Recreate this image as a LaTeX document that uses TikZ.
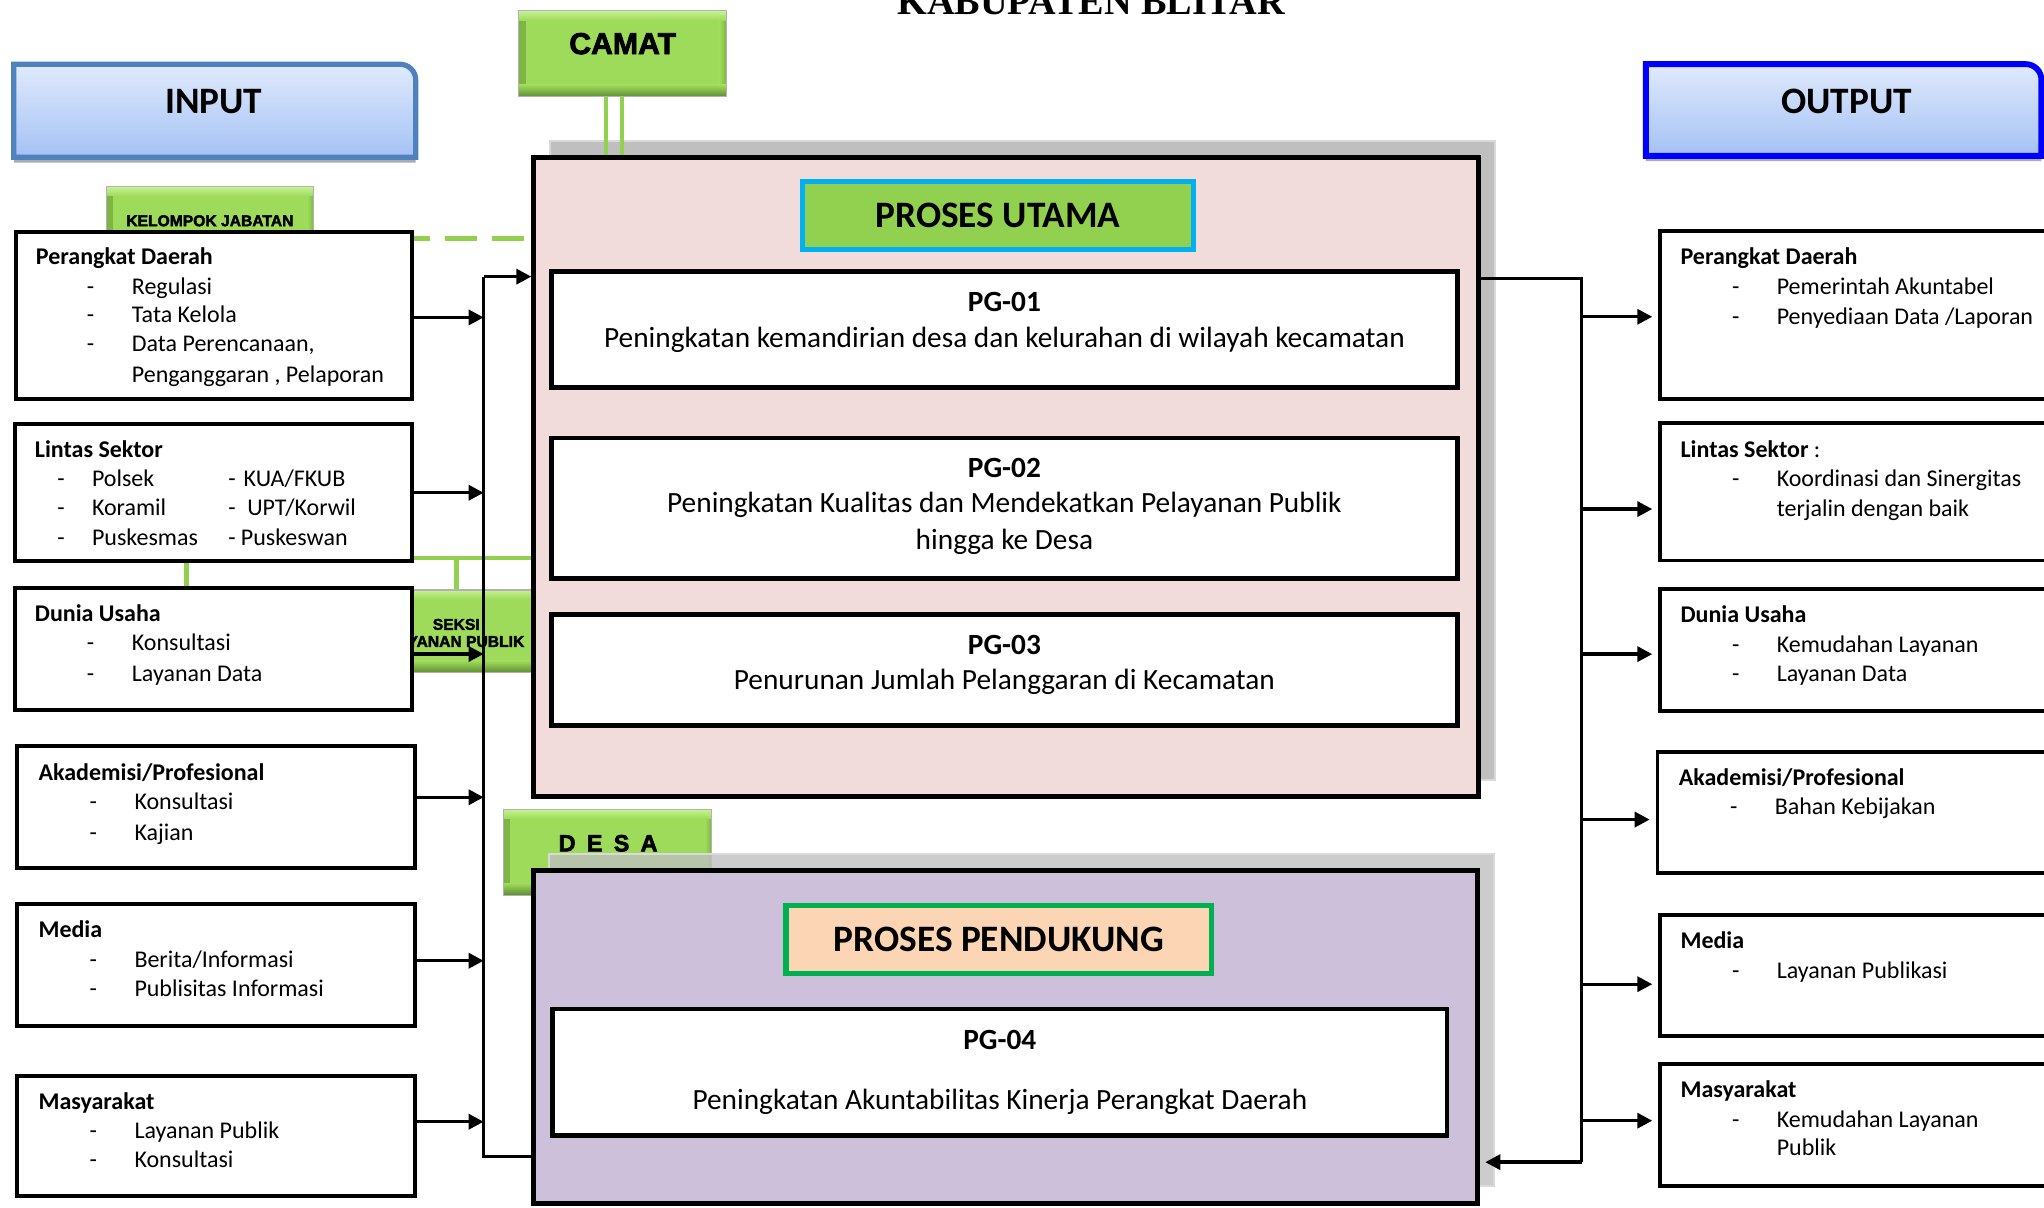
\documentclass[tikz,border=0pt]{standalone}
\usepackage{fontspec}
\setmainfont{Carlito}
\newfontfamily\arialf{Liberation Sans}[UprightFont={* Bold}, FakeBold=2.5]
\newfontfamily\seriff{Liberation Serif}
\usetikzlibrary{arrows.meta,fit}
\definecolor{pinkbox}{HTML}{F2DCDB}
\definecolor{lilac}{HTML}{CCC0DA}
\definecolor{shadegray}{HTML}{BFBFBF}
\definecolor{shadeline}{HTML}{D9D9D9}
\definecolor{lgreen}{HTML}{92D050}
\definecolor{cyanb}{HTML}{00B0F0}
\definecolor{peach}{HTML}{FCD5B4}
\definecolor{dgreen}{HTML}{00B050}
\definecolor{gtop}{HTML}{C6F294}
\definecolor{gmid}{HTML}{9EDB5A}
\definecolor{gbot}{HTML}{5E8C34}
\definecolor{gside}{HTML}{7FB444}
\definecolor{inblue}{HTML}{4F81BD}
\definecolor{outblue}{HTML}{0000FF}
\definecolor{bluetop}{HTML}{E0EAFB}
\definecolor{bluebot}{HTML}{A4C1F5}
\newcommand\dashitem[2]{\makebox[#1][l]{-}#2}
\begin{document}
\begin{tikzpicture}[x=1pt,y=-1pt,
  wbox/.style={draw, line width=3pt, fill=white, inner sep=0pt},
  mbox/.style={draw, line width=3.8pt, inner sep=0pt},
  shd/.style={fill=shadegray, draw=shadeline, line width=1.5pt},
  gbox/.style={draw=black!30, line width=0.8pt, fill=gmid, inner sep=0pt,
    path picture={
      \fill[left color=gside, right color=gmid] (path picture bounding box.south west) rectangle ([xshift=5pt]path picture bounding box.north west);
      \fill[left color=gmid, right color=gside] ([xshift=-5pt]path picture bounding box.south east) rectangle (path picture bounding box.north east);
      \fill[top color=gtop, bottom color=gmid] (path picture bounding box.north west) rectangle ([yshift=-7pt]path picture bounding box.north east);
      \fill[top color=gmid, bottom color=gbot] ([yshift=9pt]path picture bounding box.south west) rectangle (path picture bounding box.south east);
    }},
  lt/.style={anchor=base west, inner sep=0pt, font=\fontsize{18.4}{22}\selectfont},
  lth/.style={anchor=base west, inner sep=0pt, font=\bfseries\fontsize{18.4}{22}\selectfont},
  pgt/.style={anchor=base, inner sep=0pt, font=\fontsize{22.5}{27}\selectfont},
  pgh/.style={anchor=center, inner sep=0pt, font=\bfseries\fontsize{22.5}{27}\selectfont},
  ttl/.style={anchor=center, inner sep=0pt, font=\bfseries\fontsize{28.6}{32}\selectfont},
  gtx/.style={anchor=center, inner sep=0pt, font=\arialf\fontsize{12}{13}\selectfont},
  arr/.style={line width=2.6pt, -{Triangle[length=11.5pt,width=11.5pt]}},
  bus/.style={line width=2.3pt},
  gline/.style={lgreen, line width=3.5pt},
  gdash/.style={lgreen, line width=3.6pt, dash pattern=on 24pt off 12pt, dash phase=12pt},
  cline/.style={lgreen, line width=3pt}
]
\useasboundingbox (0,0) rectangle (1568,926);
\clip (0,0) rectangle (1568,926);

% title (cut at top, as in the reference)
\node[font=\seriff\bfseries\fontsize{29.3}{30}\selectfont, anchor=base, inner sep=0pt] (title) at (837,11.5) {KABUPATEN BLITAR};

% INPUT
\fill[gray!65] (10.6,124.7) -- (10.6,53.3) -- (306.9,53.3) arc[start angle=90,end angle=0,radius=12pt] -- (318.9,124.7) -- cycle;
\path[draw=inblue, line width=4pt, top color=bluetop, bottom color=bluebot] (10.6,120.7) -- (10.6,49.3) -- (306.9,49.3) arc[start angle=90,end angle=0,radius=12pt] -- (318.9,120.7) -- cycle;
\node[ttl] (input) at (164,78) {INPUT};

% OUTPUT
\fill[gray!65] (1262.6,123.6) -- (1262.6,53.2) -- (1554,53.2) arc[start angle=90,end angle=0,radius=12pt] -- (1566,123.6) -- cycle;
\path[draw=outblue, line width=4.5pt, top color=bluetop, bottom color=bluebot] (1262.6,119.6) -- (1262.6,49.2) -- (1554,49.2) arc[start angle=90,end angle=0,radius=12pt] -- (1566,119.6) -- cycle;
\node[ttl] (output) at (1416.6,77.8) {OUTPUT};

% green boxes
\node[gbox, fit={(398,8.4) (557,74.2)}] (camat) {};
\node[anchor=center, inner sep=0pt, font=\arialf\fontsize{23.2}{25}\selectfont] (camattxt) at (477.7,33.5) {CAMAT};
\node[gbox, fit={(81.5,143.2) (240.7,208)}] (kj) {};
\node[gtx] (kjtxt) at (161,169.4) {KELOMPOK JABATAN};
\node[gbox, fit={(271,452.6) (429,516)}] (seksi) {};
\node[gtx] (seksi1) at (350,479) {SEKSI};
\node[gtx] (seksi2) at (350,492.2) {LAYANAN PUBLIK};

% upper shadow + main box + camat lines
\draw[shd] (422,108) rectangle (1146.5,598);
\node[mbox, fill=pinkbox, fit={(409.5,121) (1134,611)}] (main) {};
\coordinate (cx1) at (465,0);
\coordinate (cx2) at (477,0);
\draw[cline] (camat.south -| cx1) -- (main.north -| cx1);
\draw[cline] (camat.south -| cx2) -- (main.north -| cx2);

\node[draw=cyanb, line width=4pt, fill=lgreen, inner sep=0pt, fit={(615.7,139.3) (915.5,191.6)}] (pu) {};
\node[ttl] (putxt) at (765.6,165.5) {PROSES UTAMA};

\node[mbox, fill=white, fit={(423,208.5) (1118,297)}] (pg1) {};
\node[pgh] (pg1h) at (770.5,231.4) {PG-01};
\node[pgt] (pg1t) at (770.5,266.9) {Peningkatan kemandirian desa dan kelurahan di wilayah kecamatan};

\node[mbox, fill=white, fit={(423,336) (1118,444)}] (pg2) {};
\node[pgh] (pg2h) at (770.5,359) {PG-02};
\node[pgt] (pg2t) at (770.5,393.3) {Peningkatan Kualitas dan Mendekatkan Pelayanan Publik};
\node[pgt] (pg2u) at (770.5,421.3) {hingga ke Desa};

\node[mbox, fill=white, fit={(423,471.5) (1118,556.5)}] (pg3) {};
\node[pgh] (pg3h) at (770.5,495) {PG-03};
\node[pgt] (pg3t) at (770.5,529.3) {Penurunan Jumlah Pelanggaran di Kecamatan};

% DESA + lower box
\node[gbox, fit={(386,620.9) (545.8,686.6)}] (desa) {};
\node[anchor=center, inner sep=0pt, font=\arialf\fontsize{18}{20}\selectfont] (desatxt) at (466.5,646.9) {D\hspace{3.6pt} E\hspace{3.6pt} S\hspace{3.6pt} A};
\draw[shd, fill opacity=0.8] (421.5,655) rectangle (1146,910);
\node[mbox, fill=lilac, fit={(409,668) (1133.5,923)}] (lower) {};
\node[draw=dgreen, line width=4pt, fill=peach, inner sep=0pt, fit={(603,694.5) (929.6,746.7)}] (pp) {};
\node[ttl] (pptxt) at (766.3,720.6) {PROSES PENDUKUNG};
\node[mbox, fill=white, fit={(424,774) (1110,871)}] (pg4) {};
\node[pgh] (pg4h) at (767,798) {PG-04};
\node[pgt] (pg4t) at (767,851.3) {Peningkatan Akuntabilitas Kinerja Perangkat Daerah};

% green connectors on the left
\coordinate (gdy) at (0,183);
\coordinate (gly) at (0,428);
\coordinate (gx) at (143,0);

% left boxes
\node[wbox, fit={(12.5,177.9) (316.2,306.1)}] (L1) {};
\node[wbox, fit={(11.3,325) (316.2,430.5)}] (L2) {};
\node[wbox, fit={(11.3,450.8) (316.2,544.9)}] (L3) {};
\node[wbox, fit={(13.2,572.2) (318.3,665.9)}] (L4) {};
\node[wbox, fit={(13.2,693.2) (318.3,787.3)}] (L5) {};
\node[wbox, fit={(13.2,825.4) (318.3,917.7)}] (L6) {};

\draw[gdash] (L1.east |- gdy) -- (main.west |- gdy);
\draw[gline] (L2.east |- gly) -- (main.west |- gly);
\draw[gline] (seksi.north |- gly) -- (seksi.north);
\draw[gline] (L2.south -| gx) -- (L3.north -| gx);

\node[lth] (l1h) at (27.4,202.9) {Perangkat Daerah};
\node[lt] (l1a) at (66.5,226) {\dashitem{34.5pt}{Regulasi}};
\node[lt] (l1b) at (66.5,247.6) {\dashitem{34.5pt}{Tata Kelola}};
\node[lt] (l1c) at (66.5,270) {\dashitem{34.5pt}{Data Perencanaan,}};
\node[lt] (l1d) at (101,293.7) {Penganggaran , Pelaporan};

\node[lth] (l2h) at (26.6,350.7) {Lintas Sektor};
\node[lt] (l2a) at (43.8,373.5) {\dashitem{26.6pt}{Polsek}};
\node[lt] (l2b) at (43.8,395.4) {\dashitem{26.6pt}{Koramil}};
\node[lt] (l2c) at (43.8,418.2) {\dashitem{26.6pt}{Puskesmas}};
\node[lt] (l2d) at (175,373.5) {\dashitem{11.7pt}{KUA/FKUB}};
\node[lt] (l2e) at (175,395.4) {\dashitem{14.5pt}{UPT/Korwil}};
\node[lt] (l2f) at (175,418.2) {\dashitem{9.6pt}{Puskeswan}};

\node[lth] (l3h) at (26.6,476.5) {Dunia Usaha};
\node[lt] (l3a) at (66.5,499) {\dashitem{34.5pt}{Konsultasi}};
\node[lt] (l3b) at (66.5,522.5) {\dashitem{34.5pt}{Layanan Data}};

\node[lth] (l4h) at (29.4,598.7) {Akademisi/Profesional};
\node[lt] (l4a) at (68.5,621) {\dashitem{34.5pt}{Konsultasi}};
\node[lt] (l4b) at (68.5,644.5) {\dashitem{34.5pt}{Kajian}};

\node[lth] (l5h) at (29.4,719.4) {Media};
\node[lt] (l5a) at (68.5,741.9) {\dashitem{34.5pt}{Berita/Informasi}};
\node[lt] (l5b) at (68.5,764.4) {\dashitem{34.5pt}{Publisitas Informasi}};

\node[lth] (l6h) at (29.4,851) {Masyarakat};
\node[lt] (l6a) at (68.5,873.3) {\dashitem{34.5pt}{Layanan Publik}};
\node[lt] (l6b) at (68.5,895.9) {\dashitem{34.5pt}{Konsultasi}};

% left bus
\coordinate (bt) at (371,212.2);
\coordinate (bb) at (371,887.3);
\coordinate (a1) at (371,243.5);
\coordinate (a2) at (371,378);
\coordinate (a3) at (371,501.7);
\coordinate (a4) at (371,611.6);
\coordinate (a5) at (371,737);
\coordinate (a6) at (371,860.5);
\draw[bus] (bt) -- (bb) -- (bb -| lower.west);
\draw[arr] (bt) -- (bt -| main.west);
\draw[arr] (L1.east |- a1) -- (a1);
\draw[arr] (L2.east |- a2) -- (a2);
\draw[arr] (L3.east |- a3) -- (a3);
\draw[arr] (L4.east |- a4) -- (a4);
\draw[arr] (L5.east |- a5) -- (a5);
\draw[arr] (L6.east |- a6) -- (a6);

% right boxes
\node[wbox, fit={(1273.5,177) (1580,306)}] (R1) {};
\node[wbox, fit={(1273.5,324.5) (1580,430)}] (R2) {};
\node[wbox, fit={(1273.5,452) (1580,545.5)}] (R3) {};
\node[wbox, fit={(1271.5,576.7) (1580,670)}] (R4) {};
\node[wbox, fit={(1273.5,701.7) (1580,795)}] (R5) {};
\node[wbox, fit={(1273.5,816.5) (1580,910)}] (R6) {};

\node[lth] (r1h) at (1289,203) {Perangkat Daerah};
\node[lt] (r1a) at (1328.6,226) {\dashitem{34.2pt}{Pemerintah Akuntabel}};
\node[lt] (r1b) at (1328.6,249) {\dashitem{34.2pt}{Penyediaan Data /Laporan}};

\node[lt] (r2h) at (1289,351) {\textbf{Lintas Sektor} :};
\node[lt] (r2a) at (1328.6,372.9) {\dashitem{34.2pt}{Koordinasi dan Sinergitas}};
\node[lt] (r2b) at (1362.8,395.9) {terjalin dengan baik};

\node[lth] (r3h) at (1289,477.6) {Dunia Usaha};
\node[lt] (r3a) at (1328.6,500.4) {\dashitem{34.2pt}{Kemudahan Layanan}};
\node[lt] (r3b) at (1328.6,522.7) {\dashitem{34.2pt}{Layanan Data}};

\node[lth] (r4h) at (1287.6,602.9) {Akademisi/Profesional};
\node[lt] (r4a) at (1327,625) {\dashitem{34.3pt}{Bahan Kebijakan}};

\node[lth] (r5h) at (1289,727.6) {Media};
\node[lt] (r5a) at (1328.6,750.5) {\dashitem{34.2pt}{Layanan Publikasi}};

\node[lth] (r6h) at (1289,842) {Masyarakat};
\node[lt] (r6a) at (1328.6,865) {\dashitem{34.2pt}{Kemudahan Layanan}};
\node[lt] (r6b) at (1362.8,886.5) {Publik};

% right bus
\coordinate (rt) at (1213.5,213.7);
\coordinate (rb) at (1213.5,891.5);
\coordinate (c1) at (1213.5,243);
\coordinate (c2) at (1213.5,390.5);
\coordinate (c3) at (1213.5,501.8);
\coordinate (c4) at (1213.5,628.7);
\coordinate (c5) at (1213.5,755);
\coordinate (c6) at (1213.5,859.7);
\draw[bus] (main.east |- rt) -- (rt) -- (rb);
\draw[arr, shorten >=4pt] (rb) -- (rb -| lower.east);
\draw[arr, shorten >=4.5pt] (c1) -- (c1 -| R1.west);
\draw[arr, shorten >=4.5pt] (c2) -- (c2 -| R2.west);
\draw[arr, shorten >=4.5pt] (c3) -- (c3 -| R3.west);
\draw[arr, shorten >=4.5pt] (c4) -- (c4 -| R4.west);
\draw[arr, shorten >=4.5pt] (c5) -- (c5 -| R5.west);
\draw[arr, shorten >=4.5pt] (c6) -- (c6 -| R6.west);
\end{tikzpicture}
\end{document}
